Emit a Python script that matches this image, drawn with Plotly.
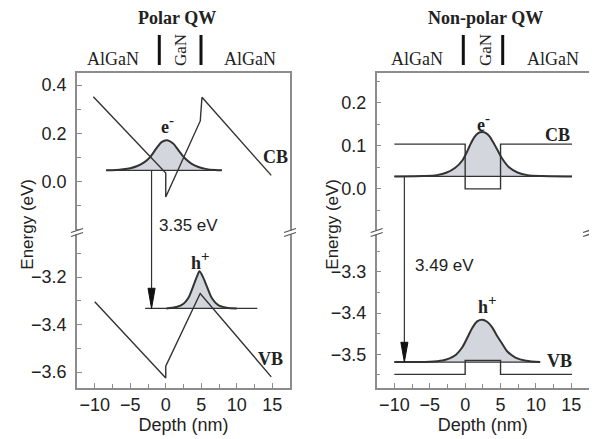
import plotly.graph_objects as go

# ---------------- data ----------------
# Polar QW (left panel)
polar_cb_x = [-10.2, 0.0, 0.0, 4.86, 5.1, 14.86]
polar_cb_y = [0.351, 0.035, -0.065, 0.251, 0.349, 0.025]
polar_vb_x = [-10.0, -0.1, 0.0, 0.0, 4.85, 14.86]
polar_vb_y = [-3.304, -3.623, -3.625, -3.575, -3.269, -3.62]

polar_e_level = 0.046
polar_e_span = [-8.4, 7.9]
polar_e_x = [-8.4, -7.0, -6.0, -5.0, -4.0, -3.0, -2.2, -1.3, -0.6, 0.2, 1.0, 1.8, 2.7, 3.6, 4.6, 5.6, 7.0, 7.9]
polar_e_y = [0.046, 0.047, 0.050, 0.055, 0.064, 0.080, 0.101, 0.138, 0.163, 0.171, 0.158, 0.129, 0.096, 0.074, 0.060, 0.052, 0.047, 0.046]

polar_h_level = -3.332
polar_h_span = [-2.9, 12.9]
polar_h_x = [0.1, 1.5, 2.5, 3.2, 3.9, 4.4, 4.75, 5.2, 5.8, 6.5, 7.4, 8.6, 10.0]
polar_h_y = [-3.332, -3.326, -3.312, -3.287, -3.236, -3.197, -3.175, -3.197, -3.240, -3.289, -3.318, -3.329, -3.332]

polar_arrow_x = -2.0
polar_gap_label = "3.35 eV"

# Non-polar QW (right panel)
np_cb_x = [-10.0, 0.0, 0.0, 5.0, 5.0, 15.1]
np_cb_y = [0.104, 0.104, 0.0, 0.0, 0.104, 0.104]
np_vb_x = [-10.0, 0.0, 0.0, 5.0, 5.0, 15.1]
np_vb_y = [-3.549, -3.549, -3.515, -3.515, -3.549, -3.549]

np_e_level = 0.029
np_e_span = [-10.0, 15.1]
np_e_x = [-10.0, -6.0, -4.0, -2.6, -1.4, -0.4, 0.2, 0.7, 1.3, 1.8, 2.4, 3.0, 3.5, 4.1, 4.6, 5.2, 6.2, 7.4, 8.8, 10.8, 15.1]
np_e_y = [0.029, 0.030, 0.032, 0.038, 0.049, 0.066, 0.084, 0.102, 0.120, 0.129, 0.132, 0.129, 0.121, 0.104, 0.089, 0.071, 0.050, 0.038, 0.032, 0.030, 0.029]

np_h_level = -3.519
np_h_span = [-10.0, 10.6]
np_h_x = [-10.0, -5.0, -3.2, -2.2, -1.3, -0.4, 0.3, 1.0, 1.7, 2.4, 3.1, 3.8, 4.5, 5.1, 6.0, 7.1, 8.6, 10.6]
np_h_y = [-3.519, -3.518, -3.515, -3.510, -3.501, -3.483, -3.460, -3.436, -3.420, -3.416, -3.421, -3.434, -3.455, -3.471, -3.494, -3.508, -3.516, -3.519]

np_arrow_x = -8.59
np_gap_label = "3.49 eV"

x_ticks = [-10, -5, 0, 5, 10, 15]
x_range = [-12.5, 17.5]
polar_upper_ticks = [0.0, 0.2, 0.4]
polar_lower_ticks = [-3.6, -3.4, -3.2]
np_upper_ticks = [0.0, 0.1, 0.2]
np_lower_ticks = [-3.5, -3.4, -3.3]
polar_upper_range = [-0.21, 0.45]
polar_lower_range = [-3.667, -3.01]
np_upper_range = [-0.1, 0.269]
np_lower_range = [-3.582, -3.203]

# ---------------- styles / layout helpers ----------------
CURVE = "#333333"
FRAME = "#8c8c8c"
FILL = "rgba(196,202,209,0.75)"
TXT = "#222222"
SANS = "Liberation Sans, Arial, sans-serif"
SERIF = "Liberation Serif, Times New Roman, serif"

# the page body has an 8px margin: the figure is sized to fill the rest of the window
OFF = 8
W, H = 597 - OFF, 439 - OFF


def PX(px):
    return (px - OFF) / W


def PY(py):
    return 1 - (py - OFF) / H


LX = [PX(77), PX(290)]
RX = [PX(376.7), PX(589)]
UY = [PY(232), PY(73)]
DY = [PY(388), PY(232)]

fig = go.Figure()


def add_panel(xa, ya_up, ya_lo, cb_x, cb_y, vb_x, vb_y,
              e_lvl, e_span, e_x, e_y, h_lvl, h_span, h_x, h_y,
              arrow_x, up_range, lo_range, head_len):
    up = dict(xaxis=xa[0], yaxis=ya_up)
    lo = dict(xaxis=xa[1], yaxis=ya_lo)
    # electron wavefunction: baseline + filled curve
    fig.add_trace(go.Scatter(x=e_span, y=[e_lvl, e_lvl], mode="lines",
                             line=dict(color=CURVE, width=1.3), showlegend=False, **up))
    fig.add_trace(go.Scatter(x=e_x, y=e_y, mode="lines", fill="tonexty", fillcolor=FILL,
                             line=dict(color=CURVE, width=2, shape="spline", smoothing=0.8),
                             showlegend=False, **up))
    # hole wavefunction
    fig.add_trace(go.Scatter(x=h_span, y=[h_lvl, h_lvl], mode="lines",
                             line=dict(color=CURVE, width=1.3), showlegend=False, **lo))
    fig.add_trace(go.Scatter(x=h_x, y=h_y, mode="lines", fill="tonexty", fillcolor=FILL,
                             line=dict(color=CURVE, width=2, shape="spline", smoothing=0.8),
                             showlegend=False, **lo))
    # bands
    fig.add_trace(go.Scatter(x=cb_x, y=cb_y, mode="lines",
                             line=dict(color=CURVE, width=1.4), showlegend=False, **up))
    fig.add_trace(go.Scatter(x=vb_x, y=vb_y, mode="lines",
                             line=dict(color=CURVE, width=1.4), showlegend=False, **lo))
    # transition arrow (shaft in both halves, filled head in lower half)
    fig.add_trace(go.Scatter(x=[arrow_x, arrow_x], y=[e_lvl, up_range[0]], mode="lines",
                             line=dict(color=CURVE, width=1.2), showlegend=False, **up))
    fig.add_trace(go.Scatter(x=[arrow_x, arrow_x], y=[lo_range[1], h_lvl + head_len], mode="lines",
                             line=dict(color=CURVE, width=1.2), showlegend=False, **lo))
    hw = 0.5
    fig.add_trace(go.Scatter(x=[arrow_x - hw, arrow_x + hw, arrow_x, arrow_x - hw],
                             y=[h_lvl + head_len, h_lvl + head_len, h_lvl, h_lvl + head_len],
                             mode="lines", fill="toself", fillcolor="#111111",
                             line=dict(color="#111111", width=1), showlegend=False, **lo))


add_panel(("x", "x2"), "y", "y2", polar_cb_x, polar_cb_y, polar_vb_x, polar_vb_y,
          polar_e_level, polar_e_span, polar_e_x, polar_e_y,
          polar_h_level, polar_h_span, polar_h_x, polar_h_y,
          polar_arrow_x, polar_upper_range, polar_lower_range, 0.085)
add_panel(("x3", "x4"), "y3", "y4", np_cb_x, np_cb_y, np_vb_x, np_vb_y,
          np_e_level, np_e_span, np_e_x, np_e_y,
          np_h_level, np_h_span, np_h_x, np_h_y,
          np_arrow_x, np_upper_range, np_lower_range, 0.048)

tickfont = dict(family=SANS, size=18, color=TXT)


def top_x(dom, anchor):
    return dict(domain=dom, range=x_range, anchor=anchor, side="top", showline=True,
                linecolor=FRAME, linewidth=1.5, ticks="", showticklabels=False,
                showgrid=False, zeroline=False)


def bot_x(dom, anchor):
    return dict(domain=dom, range=x_range, anchor=anchor, showline=True, linecolor=FRAME,
                linewidth=1.5, tickvals=x_ticks, ticks="inside", ticklen=5, tickwidth=1,
                tickcolor=FRAME, minor=dict(dtick=2.5, tick0=0, ticks="inside", ticklen=4,
                                            tickcolor=FRAME),
                tickfont=tickfont, showgrid=False, zeroline=False,
                title=dict(text="Depth (nm)", font=dict(family=SANS, size=18, color=TXT), standoff=0))


def yax(dom, rng, anchor, tv, mdtick):
    return dict(domain=dom, range=rng, anchor=anchor, showline=True, mirror=True,
                linecolor=FRAME, linewidth=1.5, tickvals=tv, ticks="inside",
                ticklen=5, tickwidth=1, tickcolor=FRAME, tickformat=".1f",
                minor=dict(dtick=mdtick, tick0=0, ticks="inside", ticklen=4, tickcolor=FRAME),
                tickfont=tickfont, showgrid=False, zeroline=False, ticklabelstandoff=5)


fig.update_layout(
    width=W, height=H, margin=dict(l=0, r=0, t=0, b=0),
    paper_bgcolor="white", plot_bgcolor="white", showlegend=False,
    xaxis=top_x(LX, "y"), xaxis2=bot_x(LX, "y2"),
    xaxis3=top_x(RX, "y3"), xaxis4=bot_x(RX, "y4"),
    yaxis=yax(UY, polar_upper_range, "x", polar_upper_ticks, 0.1),
    yaxis2=yax(DY, polar_lower_range, "x2", polar_lower_ticks, 0.1),
    yaxis3=yax(UY, np_upper_range, "x3", np_upper_ticks, 0.05),
    yaxis4=yax(DY, np_lower_range, "x4", np_lower_ticks, 0.05),
)

# ---------------- axis break marks ----------------
shapes = []
for xd, yd in (("x domain", "y domain"), ("x3 domain", "y3 domain")):
    for xa in (0, 1):
        base = dict(xref=xd, yref=yd, xsizemode="pixel", ysizemode="pixel", xanchor=xa, yanchor=0)
        shapes.append(dict(type="rect", x0=-2, x1=2, y0=-2.5, y1=1.5, fillcolor="white",
                           line=dict(width=0), **base))
        shapes.append(dict(type="line", x0=-6, x1=6, y0=-4.5, y1=-0.5,
                           line=dict(color="#555555", width=1.2), **base))
        shapes.append(dict(type="line", x0=-6, x1=6, y0=-0.5, y1=3.5,
                           line=dict(color="#555555", width=1.2), **base))

# material bars above each panel
for xp in (159.3, 201, 463.3, 502.7):
    shapes.append(dict(type="line", xref="paper", yref="paper", x0=PX(xp), x1=PX(xp),
                       y0=PY(65), y1=PY(35), line=dict(color="#111111", width=3)))
fig.update_layout(shapes=shapes)

# ---------------- text ----------------
ann = []
serif_b = dict(family=SERIF, size=18, color=TXT)
serif_r = dict(family=SERIF, size=18, color=TXT)
sans = dict(family=SANS, size=17, color=TXT)
SUP = "<sup><span style='font-size:15px'>{}</span></sup>"


def t(text, x, y, xref, yref, font, xanchor="center", textangle=0):
    ann.append(dict(text=text, x=x, y=y, xref=xref, yref=yref, showarrow=False,
                    font=font, xanchor=xanchor, yanchor="middle", textangle=textangle))


# panel headings
t("<b>Polar QW</b>", PX(176.7), PY(18.3), "paper", "paper", serif_b)
t("<b>Non-polar QW</b>", PX(485), PY(18.3), "paper", "paper", serif_b)
for xp in (113, 250, 416.7, 553.3):
    t("AlGaN", PX(xp), PY(59), "paper", "paper", serif_r)
for xp in (180, 485):
    t("GaN", PX(xp), PY(50), "paper", "paper", dict(family=SERIF, size=17, color=TXT), textangle=-90)

# y titles
t("Energy (eV)", PX(26.7), PY(224), "paper", "paper", sans, textangle=-90)
t("Energy (eV)", PX(331.7), PY(224), "paper", "paper", sans, textangle=-90)

# left panel labels
t("<b>e" + SUP.format("-") + "</b>", 0.2, 0.238, "x", "y", serif_b)
t("<b>CB</b>", 15.4, 0.10, "x", "y", serif_b)
t(polar_gap_label, -1.3, -0.183, "x", "y", sans, xanchor="left")
t("<b>h" + SUP.format("+") + "</b>", 4.9, -3.128, "x2", "y2", serif_b)
t("<b>VB</b>", 14.8, -3.543, "x2", "y2", serif_b)

# right panel labels
t("<b>e" + SUP.format("-") + "</b>", 2.6, 0.155, "x3", "y3", serif_b)
t("<b>CB</b>", 13.05, 0.125, "x3", "y3", serif_b)
t(np_gap_label, -7.42, -3.284, "x4", "y4", sans, xanchor="left")
t("<b>h" + SUP.format("+") + "</b>", 3.2, -3.38, "x4", "y4", serif_b)
t("<b>VB</b>", 13.3, -3.516, "x4", "y4", serif_b)

fig.update_layout(annotations=ann)

fig.write_html("out.html")
